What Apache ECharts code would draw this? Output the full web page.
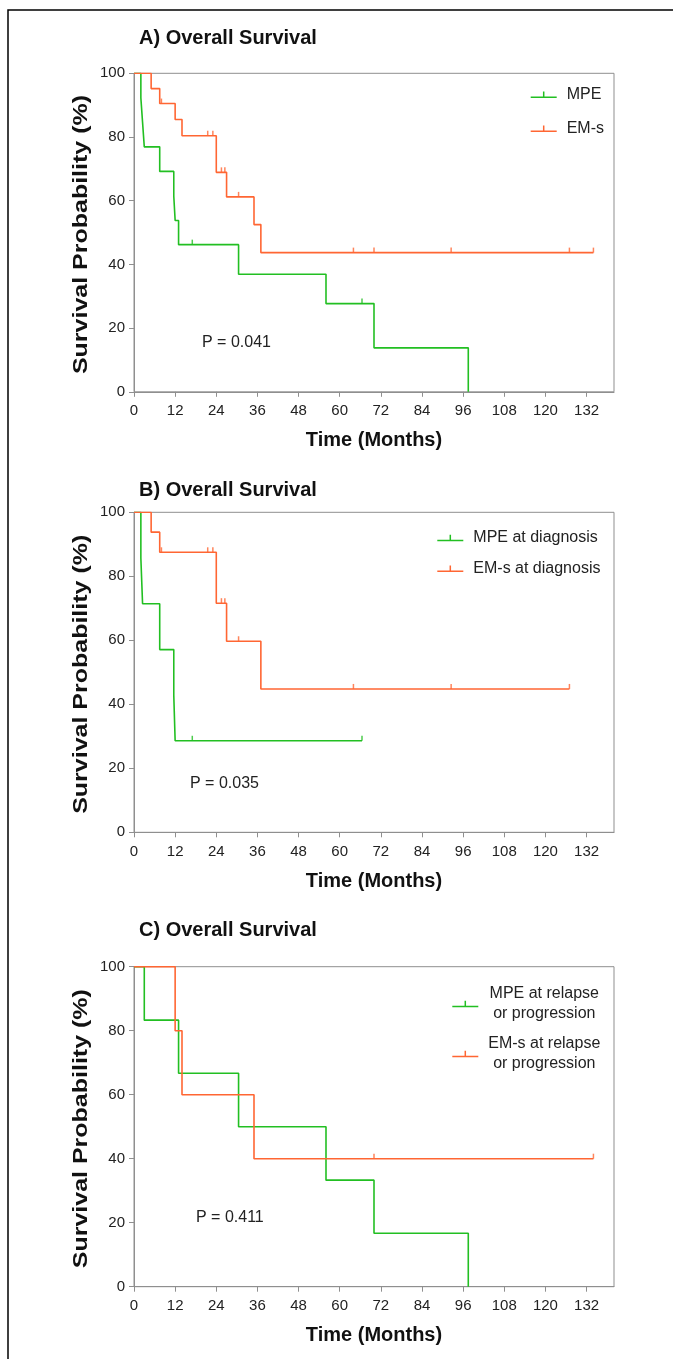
<!DOCTYPE html>
<html><head><meta charset="utf-8">
<script src="https://cdn.jsdelivr.net/npm/echarts@6/dist/echarts.min.js"></script>
<style>html,body{margin:0;padding:0;background:#fff}#c{width:673px;height:1359px}</style>
</head><body><div id="c"></div>
<script>
// ---- tick labels ----
const xTicks = [0, 12, 24, 36, 48, 60, 72, 84, 96, 108, 120, 132];
const yTicks = [0, 20, 40, 60, 80, 100];

// ---- Panel A: Overall survival ----
const aMpeTime = [0, 2, 2.5, 3, 7.5, 11.6, 12, 13, 30.5, 56, 70, 97.5];
const aMpeSurv = [100, 92.3, 84.6, 76.9, 69.2, 61.5, 53.8, 46.2, 36.9, 27.7, 13.8, 0];
const aMpeCensTime = [17, 66.5];
const aMpeCensSurv = [46.2, 27.7];
const aEmTime = [0, 5, 7.5, 12, 14, 24, 27, 35, 37, 134];
const aEmSurv = [100, 95.2, 90.5, 85.5, 80.4, 68.9, 61.2, 52.5, 43.7, 43.7];
const aEmCensTime = [8, 21.5, 23, 25.5, 26.5, 30.5, 64, 70, 92.5, 127, 134];
const aEmCensSurv = [90.5, 80.4, 80.4, 68.9, 68.9, 61.2, 43.7, 43.7, 43.7, 43.7, 43.7];

// ---- Panel B: at diagnosis ----
const bMpeTime = [0, 2, 2.5, 7.5, 11.6, 12, 66.5];
const bMpeSurv = [100, 85.7, 71.4, 57.1, 42.9, 28.6, 28.6];
const bMpeCensTime = [17, 66.5];
const bMpeCensSurv = [28.6, 28.6];
const bEmTime = [0, 5, 7.5, 24, 27, 37, 127];
const bEmSurv = [100, 93.8, 87.5, 71.6, 59.7, 44.8, 44.8];
const bEmCensTime = [8, 21.5, 23, 25.5, 26.5, 30.5, 64, 92.5, 127];
const bEmCensSurv = [87.5, 87.5, 87.5, 71.6, 71.6, 59.7, 44.8, 44.8, 44.8];

// ---- Panel C: at relapse or progression ----
const cMpeTime = [0, 3, 13, 30.5, 56, 70, 97.5];
const cMpeSurv = [100, 83.3, 66.7, 50, 33.3, 16.7, 0];
const cEmTime = [0, 12, 14, 35, 134];
const cEmSurv = [100, 80, 60, 40, 40];
const cEmCensTime = [70, 134];
const cEmCensSurv = [40, 40];

const titles = ['A) Overall Survival', 'B) Overall Survival', 'C) Overall Survival'];
const pValues = ['P = 0.041', 'P = 0.035', 'P = 0.411'];
const yName = 'Survival Probability (%)';
const xName = 'Time (Months)';
const names = [
  ['MPE', 'EM-s'],
  ['MPE at diagnosis', 'EM-s at diagnosis'],
  ['MPE at relapse\nor progression', 'EM-s at relapse\nor progression']
];

const FONT = "'Liberation Sans', Arial, Helvetica, sans-serif";
const GREEN = '#22bf22', ORANGE = '#ff6633', AXIS = '#8f8f8f';
const zip = (t, s) => t.map((v, i) => [v, s[i]]);

const grids = [
  { left: 134, top: 73.3, width: 480, height: 318.5 },
  { left: 134, top: 512.3, width: 480, height: 320 },
  { left: 134, top: 966.7, width: 480, height: 320 }
];

const xAxes = grids.map((g, i) => ({
  type: 'value', gridIndex: i, min: 0, max: 140,
  axisLine: { show: true, lineStyle: { color: AXIS, width: 1 } },
  axisTick: { show: true, length: 5, customValues: xTicks, lineStyle: { color: AXIS } },
  axisLabel: { customValues: xTicks, margin: 12, fontSize: 15, color: '#222', fontFamily: FONT },
  splitLine: { show: false },
  name: xName, nameLocation: 'middle', nameGap: 39,
  nameTextStyle: { fontSize: 20, fontWeight: 'bold', color: '#111', fontFamily: FONT }
}));
const yAxes = grids.map((g, i) => ({
  type: 'value', gridIndex: i, min: 0, max: 100, interval: 20,
  axisLine: { show: true, lineStyle: { color: AXIS, width: 1 } },
  axisTick: { show: true, length: 5, lineStyle: { color: AXIS } },
  axisLabel: { margin: 9, fontSize: 15, color: '#222', fontFamily: FONT },
  splitLine: { show: false }
}));

function lineSeries(i, name, t, s, color) {
  return { type: 'line', name, xAxisIndex: i, yAxisIndex: i, data: zip(t, s), step: 'end',
    symbol: 'none', lineStyle: { color, width: 1.6 }, itemStyle: { color }, z: 3 };
}
function censSeries(i, name, t, s, color) {
  return { type: 'scatter', name: name + ' censored', xAxisIndex: i, yAxisIndex: i, data: zip(t, s),
    symbol: 'rect', symbolSize: [1.5, 5], symbolOffset: [0, -2.5], itemStyle: { color }, silent: true, z: 4 };
}

const series = [
  lineSeries(0, names[0][0], aMpeTime, aMpeSurv, GREEN),
  censSeries(0, names[0][0], aMpeCensTime, aMpeCensSurv, GREEN),
  lineSeries(0, names[0][1], aEmTime, aEmSurv, ORANGE),
  censSeries(0, names[0][1], aEmCensTime, aEmCensSurv, ORANGE),
  lineSeries(1, names[1][0], bMpeTime, bMpeSurv, GREEN),
  censSeries(1, names[1][0], bMpeCensTime, bMpeCensSurv, GREEN),
  lineSeries(1, names[1][1], bEmTime, bEmSurv, ORANGE),
  censSeries(1, names[1][1], bEmCensTime, bEmCensSurv, ORANGE),
  lineSeries(2, names[2][0], cMpeTime, cMpeSurv, GREEN),
  lineSeries(2, names[2][1], cEmTime, cEmSurv, ORANGE),
  censSeries(2, names[2][1], cEmCensTime, cEmCensSurv, ORANGE)
];

const ICON = 'path://M0,5L12.25,5L12.25,0L13.75,0L13.75,5L26,5L26,6.5L0,6.5Z';
const legendBase = {
  orient: 'vertical', icon: ICON, itemWidth: 26, itemHeight: 6.5, itemGap: 14,
  itemStyle: { borderWidth: 0 }, symbolKeepAspect: false,
  textStyle: { fontSize: 16, color: '#222', fontFamily: FONT, lineHeight: 20, padding: [0, 0, 0, 5] },
  selectedMode: false
};
const legends = [
  Object.assign({}, legendBase, { data: names[0], left: 525.7, top: 79.7, itemGap: 14 }),
  Object.assign({}, legendBase, { data: names[1], left: 432.3, top: 523, itemGap: 10.7 }),
  Object.assign({}, legendBase, { data: names[2], left: 447.3, top: 979, itemGap: 10,
    formatter: n => n.split('\n').map(s => '{c|' + s + '}').join('\n'),
    textStyle: Object.assign({}, legendBase.textStyle, {
      rich: { c: { width: 112, align: 'center', fontSize: 16, lineHeight: 20, fontFamily: FONT, color: '#222' } }
    }) })
];

const titleTops = [28, 480, 920];
const title = titles.map((t, i) => ({ text: t, left: 139, top: titleTops[i], padding: 0,
  textStyle: { fontSize: 20, fontWeight: 'bold', color: '#111', fontFamily: FONT } }));

const pPos = [[202, 342.5], [190, 784], [196, 1218]];
const graphic = [
  { type: 'rect', shape: { x: 8, y: 10, width: 700, height: 1400 }, style: { fill: 'none', stroke: '#000', lineWidth: 1.5 }, silent: true }
].concat(pValues.map((p, i) => ({ type: 'text', x: pPos[i][0], y: pPos[i][1],
  style: { text: p, fontSize: 16, fill: '#222', fontFamily: FONT, verticalAlign: 'middle' }, silent: true })))
 .concat(grids.map(g => ({ type: 'text', x: 81, y: g.top + g.height / 2 + 2, rotation: Math.PI / 2, scaleX: 1.19,
  style: { text: yName, fontSize: 21, fontWeight: 'bold', fill: '#111', fontFamily: FONT, align: 'center', verticalAlign: 'middle' }, silent: true })));

const chart = echarts.init(document.getElementById('c'));
chart.setOption({
  animation: false,
  backgroundColor: '#fff',
  title,
  grid: grids.map(g => Object.assign({ show: true, borderColor: AXIS, borderWidth: 1, backgroundColor: 'transparent' }, g)),
  xAxis: xAxes, yAxis: yAxes,
  legend: legends,
  series,
  graphic
});
</script></body></html>
